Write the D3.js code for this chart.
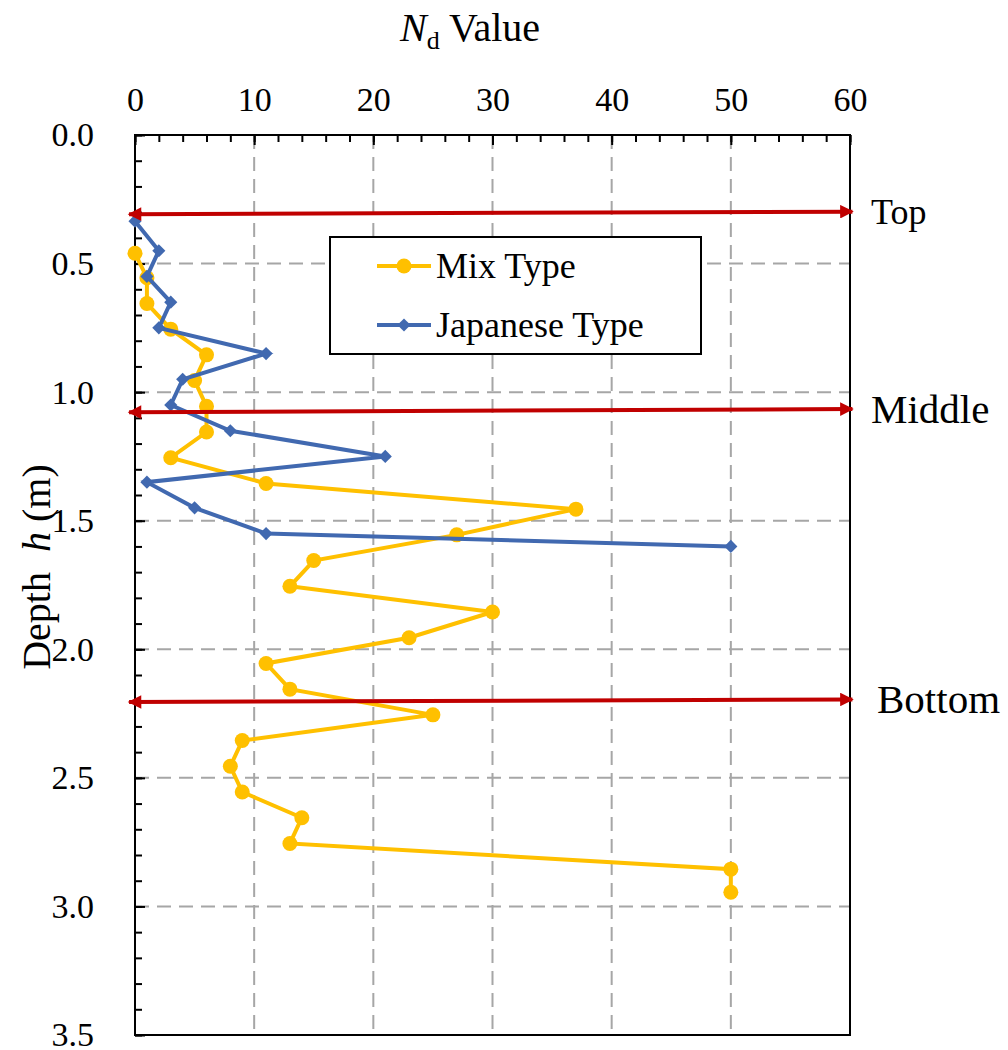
<!DOCTYPE html>
<html>
<head>
<meta charset="utf-8">
<script src="https://cdn.jsdelivr.net/npm/d3@7"></script>
<style>
  body { margin: 0; background: #fff; }
  svg text { font-family: "Liberation Serif", "Tinos", "Times New Roman", "DejaVu Serif", serif; fill: #000; }
</style>
</head>
<body>
<svg id="chart" width="1008" height="1050"></svg>
<script>
// Mix Type series
const mixDepth = [0.46, 0.555, 0.655, 0.755, 0.855, 0.955, 1.055, 1.155, 1.255, 1.355, 1.455, 1.555, 1.655,
  1.755, 1.855, 1.955, 2.055, 2.155, 2.255, 2.355, 2.455, 2.555, 2.655, 2.755, 2.855, 2.945];
const mixN = [0, 1, 1, 3, 6, 5, 6, 6, 3, 11, 37, 27, 15, 13, 30, 23, 11, 13, 25, 9, 8, 9, 14, 13, 50, 50];

// Japanese Type series
const jpDepth = [0.335, 0.45, 0.55, 0.65, 0.75, 0.85, 0.95, 1.05, 1.15, 1.25, 1.35, 1.45, 1.55, 1.60];
const jpN = [0, 2, 1, 3, 2, 11, 4, 3, 8, 21, 1, 5, 11, 50];

// layer markers (red arrows)
const layerNames = ["Top", "Middle", "Bottom"];
const layerDepthLeft = [0.308, 1.078, 2.205];
const layerDepthRight = [0.298, 1.066, 2.195];
const layerFont = [36, 41, 41];

const xTicks = [0, 10, 20, 30, 40, 50, 60];
const yTicks = [0, 0.5, 1.0, 1.5, 2.0, 2.5, 3.0, 3.5];

const svg = d3.select("#chart");
const mLeft = 135, mTop = 135, w = 715, h = 900;

const x = d3.scaleLinear().domain([0, 60]).range([mLeft, mLeft + w]);
const y = d3.scaleLinear().domain([0, 3.5]).range([mTop, mTop + h]);

// grid
const grid = svg.append("g")
  .attr("stroke", "#a6a6a6")
  .attr("stroke-width", 2)
  .attr("stroke-dasharray", "14,8");
grid.selectAll("line.v")
  .data(xTicks.filter(d => d > 0 && d < 60))
  .enter().append("line")
  .attr("x1", d => x(d)).attr("x2", d => x(d))
  .attr("y1", mTop).attr("y2", mTop + h);
grid.selectAll("line.h")
  .data(yTicks.filter(d => d > 0 && d < 3.5))
  .enter().append("line")
  .attr("x1", mLeft).attr("x2", mLeft + w)
  .attr("y1", d => y(d)).attr("y2", d => y(d));

// axes with inside ticks
function tidy(g, fs) {
  g.attr("font-family", null).attr("font-size", null);
  g.select(".domain").remove();
  g.selectAll("line").attr("stroke-width", 2);
  if (fs) g.selectAll("text").style("font-size", fs + "px");
}

const xMinor = d3.range(0, 61, 2);
svg.append("g")
  .attr("transform", `translate(0,${mTop})`)
  .call(d3.axisTop(x).tickValues(xMinor).tickSize(-7).tickFormat(""))
  .call(g => tidy(g));
svg.append("g")
  .attr("transform", `translate(0,${mTop})`)
  .call(d3.axisTop(x).tickValues(xTicks).tickSize(-10).tickPadding(24).tickFormat(d3.format("d")))
  .call(g => tidy(g, 34));

const yMinor = d3.range(0, 36).map(i => i / 10);
svg.append("g")
  .attr("transform", `translate(${mLeft},0)`)
  .call(d3.axisLeft(y).tickValues(yMinor).tickSize(-7).tickFormat(""))
  .call(g => tidy(g));
svg.append("g")
  .attr("transform", `translate(${mLeft},0)`)
  .call(d3.axisLeft(y).tickValues(yTicks).tickSize(-10).tickPadding(41).tickFormat(d3.format(".1f")))
  .call(g => tidy(g, 34));

// plot frame
svg.append("rect")
  .attr("x", mLeft).attr("y", mTop).attr("width", w).attr("height", h)
  .attr("fill", "none").attr("stroke", "#000").attr("stroke-width", 2);

// series
const mix = mixN.map((n, i) => ({ n, d: mixDepth[i] }));
const jp = jpN.map((n, i) => ({ n, d: jpDepth[i] }));
const line = d3.line().x(p => x(p.n)).y(p => y(p.d));

svg.append("path").datum(mix)
  .attr("d", line).attr("fill", "none")
  .attr("stroke", "#ffc000").attr("stroke-width", 4);
svg.append("g").selectAll("circle").data(mix).enter().append("circle")
  .attr("cx", p => x(p.n)).attr("cy", p => y(p.d)).attr("r", 7.5)
  .attr("fill", "#ffc000");

svg.append("path").datum(jp)
  .attr("d", line).attr("fill", "none")
  .attr("stroke", "#4169b0").attr("stroke-width", 4);
const diamond = d3.symbol().type(d3.symbolDiamond2).size(110);
svg.append("g").selectAll("path").data(jp).enter().append("path")
  .attr("d", diamond)
  .attr("transform", p => `translate(${x(p.n)},${y(p.d)})`)
  .attr("fill", "#4169b0");

// red arrows
const defs = svg.append("defs");
defs.append("marker")
  .attr("id", "head").attr("viewBox", "0 0 10 10")
  .attr("refX", 9).attr("refY", 5)
  .attr("markerWidth", 4).attr("markerHeight", 3.4)
  .attr("markerUnits", "strokeWidth")
  .attr("orient", "auto-start-reverse")
  .append("path").attr("d", "M0,0L10,5L0,10Z").attr("fill", "#c00000");

const layers = layerNames.map((name, i) => ({
  name, dl: layerDepthLeft[i], dr: layerDepthRight[i], fs: layerFont[i]
}));
svg.append("g").selectAll("line").data(layers).enter().append("line")
  .attr("x1", x(-0.5)).attr("y1", l => y(l.dl))
  .attr("x2", x(60.2)).attr("y2", l => y(l.dr))
  .attr("stroke", "#c00000").attr("stroke-width", 4)
  .attr("marker-start", "url(#head)").attr("marker-end", "url(#head)");
svg.append("g").selectAll("text").data(layers).enter().append("text")
  .attr("x", (l, i) => i === 2 ? 877 : 871)
  .attr("y", l => y(l.dr) + l.fs * 0.33)
  .style("font-size", l => l.fs + "px")
  .text(l => l.name);

// legend
const lg = svg.append("g");
lg.append("rect").attr("x", 330).attr("y", 237).attr("width", 371).attr("height", 117)
  .attr("fill", "#fff").attr("stroke", "#000").attr("stroke-width", 2);
const legendItems = [
  { label: "Mix Type", color: "#ffc000", type: "circle", cy: 266 },
  { label: "Japanese Type", color: "#4169b0", type: "diamond", cy: 325 }
];
legendItems.forEach(it => {
  lg.append("line").attr("x1", 377).attr("x2", 431).attr("y1", it.cy).attr("y2", it.cy)
    .attr("stroke", it.color).attr("stroke-width", 4);
  if (it.type === "circle") {
    lg.append("circle").attr("cx", 404).attr("cy", it.cy).attr("r", 7.5).attr("fill", it.color);
  } else {
    lg.append("path").attr("d", diamond).attr("transform", `translate(404,${it.cy})`).attr("fill", it.color);
  }
  lg.append("text").attr("x", 436).attr("y", it.cy + 12).style("font-size", "36px").text(it.label);
});

// axis titles
const title = svg.append("text").attr("x", 470).attr("y", 41)
  .attr("text-anchor", "middle").style("font-size", "40px");
title.append("tspan").style("font-style", "italic").text("N");
title.append("tspan").attr("dy", 8).style("font-size", "26px").text("d");
title.append("tspan").attr("dy", -8).text(" Value");

const ylab = svg.append("text")
  .attr("transform", "translate(50,567) rotate(-90)")
  .attr("text-anchor", "middle").style("font-size", "40px")
  .attr("xml:space", "preserve");
ylab.append("tspan").text("Depth  ");
ylab.append("tspan").style("font-style", "italic").text("h");
ylab.append("tspan").text(" (m)");
</script>
</body>
</html>
